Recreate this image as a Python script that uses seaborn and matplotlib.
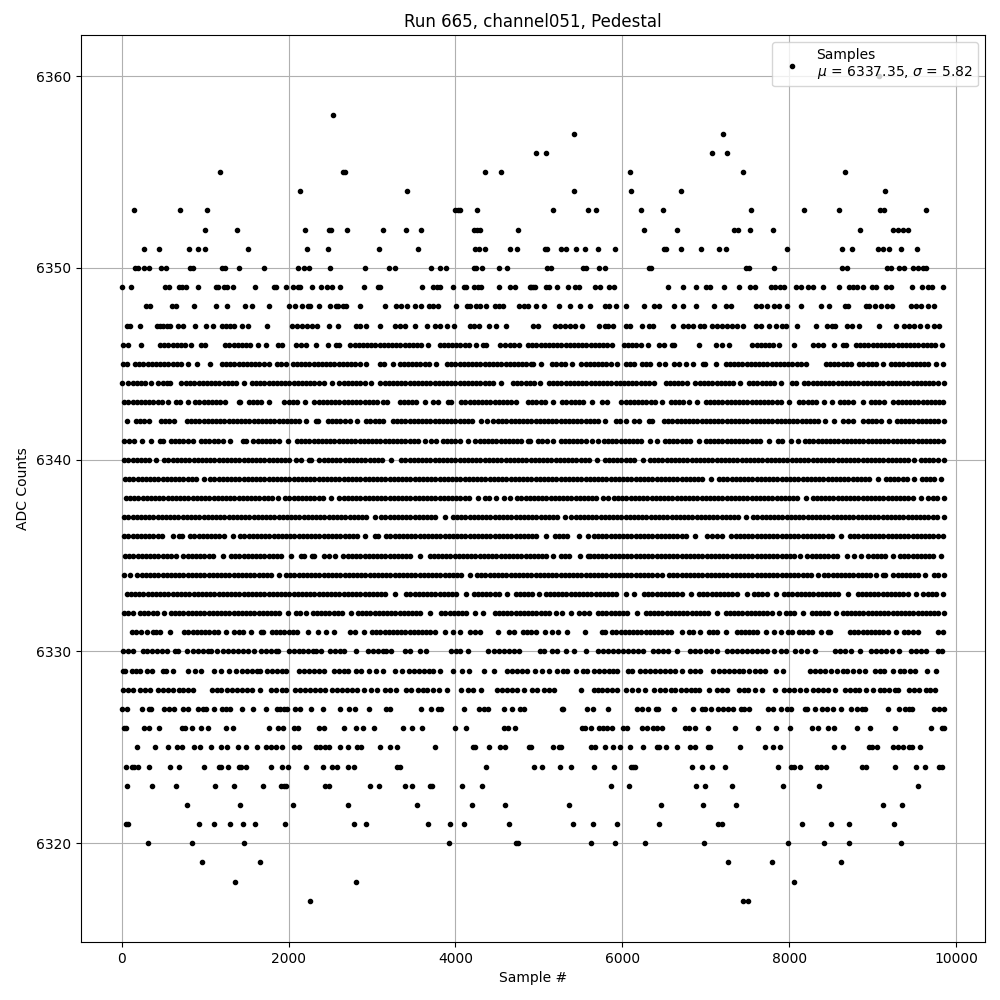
import matplotlib
matplotlib.use("Agg")
import matplotlib.pyplot as plt
import pandas as pd
import seaborn as sns

# Sample numbers, one list per ADC level
s6360 = [9072]
s6358 = [2528]
s6357 = [5424, 7212]
s6356 = [4968, 5088, 7080, 7260]
s6355 = [1172, 2648, 2672, 4352, 4544, 6096, 7452, 8664]
s6354 = [2132, 3416, 5424, 6108, 6708, 9144]
s6353 = [152, 704, 1016, 4000, 4030, 4060, 4256, 5172, 5592, 5688, 6228, 6492, 7548, 8172, 8592, 9084, 9132, 9636]
s6352 = [992, 1376, 2192, 2480, 2504, 2696, 3128, 3404, 3584, 4220, 4260, 4292, 4748, 6264, 6660, 7344, 7392, 7536, 7812, 8844, 9240, 9300, 9360, 9420]
s6351 = [272, 452, 812, 908, 992, 1508, 2216, 2468, 3080, 3548, 4232, 4288, 4352, 4652, 4736, 5076, 5100, 5268, 5328, 5448, 5556, 5712, 5916, 6504, 6528, 6708, 6948, 7164, 7248, 7980, 8628, 8748, 9060, 9120, 9192, 9336, 9528]
s6350 = [164, 200, 272, 332, 476, 536, 820, 848, 1196, 1232, 1400, 1700, 2108, 2180, 2244, 2492, 2912, 3200, 3272, 3704, 3812, 3884, 4220, 4244, 4316, 4520, 4616, 5100, 5148, 5532, 5568, 5724, 5796, 6324, 6348, 7488, 7524, 7824, 8628, 8688, 9168, 9216, 9312, 9372, 9480, 9540, 9600, 9636]
s6349 = [8, 116, 524, 572, 692, 728, 776, 908, 1124, 1148, 1220, 1256, 1328, 1592, 1820, 1844, 1964, 2048, 2108, 2132, 2276, 2384, 2456, 2516, 2612, 2900, 3068, 3092, 3596, 3728, 3776, 3812, 3968, 4100, 4124, 4220, 4268, 4304, 4516, 4648, 4708, 4892, 4908, 4932, 4956, 5088, 5124, 5220, 5352, 5436, 5484, 5676, 5736, 5844, 5904, 6552, 6732, 6888, 7008, 7056, 7224, 7404, 7536, 7596, 7788, 7836, 7896, 7944, 8088, 8136, 8220, 8280, 8400, 8592, 8712, 8760, 8808, 8880, 8988, 9036, 9156, 9216, 9468, 9588, 9660, 9708, 9840]
s6348 = [296, 344, 608, 656, 860, 1124, 1256, 1472, 1556, 1760, 2000, 2072, 2156, 2228, 2252, 2360, 2492, 2564, 2588, 2648, 2684, 2852, 3152, 3284, 3344, 3416, 3512, 3584, 3680, 3728, 3788, 4004, 4136, 4172, 4244, 4292, 4364, 4472, 4520, 4568, 4760, 4820, 4868, 4968, 5064, 5244, 5376, 5496, 5616, 5796, 5844, 5928, 6048, 6264, 6384, 6444, 6624, 6732, 6888, 7104, 7248, 7308, 7608, 7668, 7740, 7824, 7884, 7980, 8136, 8376, 8472, 8664, 8700, 8916, 8952, 9024, 9096, 9168, 9228, 9456, 9516, 9576, 9660, 9732]
s6347 = [68, 100, 224, 428, 460, 500, 548, 580, 680, 740, 872, 1004, 1088, 1196, 1244, 1292, 1340, 1436, 1508, 1736, 2040, 2100, 2160, 2220, 2280, 2340, 2480, 2588, 2804, 2860, 2932, 3092, 3272, 3332, 3400, 3512, 3656, 3752, 3820, 3900, 3980, 4172, 4220, 4280, 4400, 4480, 4604, 4932, 4992, 5192, 5252, 5312, 5372, 5432, 5512, 5724, 5792, 5832, 5892, 6040, 6092, 6240, 6324, 6372, 6612, 6724, 6792, 6852, 6932, 6980, 7072, 7132, 7192, 7252, 7312, 7372, 7452, 7604, 7660, 7764, 7848, 7912, 7964, 8092, 8316, 8452, 8512, 8552, 8692, 8752, 8832, 9072, 9280, 9372, 9432, 9492, 9572, 9652, 9732, 9792]
s6346 = [20, 80, 230, 460, 510, 560, 610, 660, 710, 760, 830, 950, 1000, 1240, 1290, 1340, 1390, 1440, 1490, 1540, 1628, 1732, 1870, 1920, 2090, 2150, 2210, 2324, 2468, 2570, 2610, 2740, 2790, 2840, 2890, 2940, 2990, 3040, 3090, 3140, 3190, 3240, 3290, 3340, 3390, 3440, 3490, 3540, 3590, 3670, 3810, 3860, 3910, 3960, 4010, 4060, 4110, 4160, 4250, 4330, 4370, 4530, 4590, 4650, 4700, 4760, 4870, 4920, 4970, 5020, 5070, 5120, 5170, 5220, 5270, 5320, 5370, 5420, 5470, 5520, 5570, 5620, 5670, 5720, 5770, 5820, 5880, 6020, 6070, 6120, 6170, 6220, 6310, 6434, 6494, 6600, 6620, 6924, 7120, 7190, 7284, 7560, 7610, 7660, 7710, 7760, 7810, 7880, 8060, 8280, 8340, 8400, 8540, 8640, 8680, 8800, 8850, 8900, 8950, 9000, 9050, 9100, 9150, 9200, 9250, 9300, 9350, 9400, 9450, 9500, 9550, 9600, 9650, 9700, 9750, 9832]
s6345 = [20, 60, 160, 210, 260, 310, 360, 410, 460, 510, 560, 610, 660, 710, 790, 900, 1052, 1200, 1250, 1300, 1350, 1400, 1450, 1500, 1550, 1600, 1650, 1700, 1760, 1860, 1910, 1970, 2050, 2100, 2150, 2200, 2250, 2300, 2350, 2400, 2450, 2500, 2550, 2600, 2650, 2700, 2750, 2800, 2850, 2930, 3090, 3140, 3248, 3330, 3380, 3430, 3480, 3530, 3580, 3630, 3680, 3770, 3900, 3950, 4000, 4050, 4100, 4150, 4200, 4250, 4300, 4350, 4400, 4450, 4500, 4550, 4600, 4650, 4700, 4750, 4800, 4850, 4900, 4932, 5022, 5160, 5210, 5260, 5310, 5400, 5510, 5560, 5610, 5660, 5710, 5760, 5810, 5860, 5940, 6040, 6090, 6140, 6240, 6290, 6330, 6440, 6510, 6620, 6680, 6760, 6852, 6970, 6990, 7124, 7240, 7290, 7340, 7390, 7440, 7490, 7540, 7590, 7640, 7690, 7740, 7790, 7840, 7890, 7940, 7990, 8040, 8090, 8140, 8200, 8440, 8490, 8540, 8590, 8640, 8690, 8740, 8840, 8890, 8940, 8990, 9040, 9120, 9220, 9270, 9320, 9370, 9420, 9470, 9520, 9570, 9620, 9670, 9760, 9845]
s6344 = [5, 80, 130, 180, 230, 280, 350, 440, 490, 540, 580, 716, 770, 820, 870, 920, 970, 1020, 1070, 1120, 1170, 1220, 1270, 1320, 1370, 1460, 1560, 1610, 1660, 1710, 1760, 1810, 1860, 1910, 1960, 2010, 2060, 2110, 2160, 2210, 2260, 2310, 2360, 2430, 2520, 2610, 2660, 2710, 2760, 2810, 2860, 2910, 2990, 3096, 3150, 3200, 3250, 3300, 3350, 3400, 3450, 3500, 3550, 3600, 3650, 3700, 3750, 3800, 3850, 3900, 3950, 4000, 4050, 4100, 4150, 4200, 4250, 4300, 4350, 4400, 4450, 4540, 4690, 4740, 4790, 4840, 4890, 4940, 5010, 5120, 5170, 5220, 5270, 5320, 5370, 5420, 5470, 5520, 5570, 5620, 5670, 5720, 5770, 5820, 5870, 5920, 5970, 6020, 6070, 6120, 6170, 6220, 6270, 6320, 6380, 6520, 6570, 6620, 6670, 6720, 6780, 6872, 6930, 6980, 7030, 7080, 7130, 7180, 7230, 7280, 7330, 7410, 7520, 7570, 7620, 7670, 7720, 7770, 7820, 7900, 8030, 8080, 8180, 8230, 8280, 8330, 8380, 8430, 8480, 8530, 8580, 8630, 8680, 8730, 8780, 8830, 8880, 8930, 8980, 9030, 9080, 9130, 9180, 9230, 9280, 9330, 9380, 9430, 9480, 9530, 9580, 9630, 9680, 9730, 9780, 9855]
s6343 = [30, 80, 130, 180, 230, 280, 330, 380, 430, 480, 550, 650, 700, 790, 880, 930, 980, 1030, 1080, 1130, 1180, 1240, 1400, 1420, 1520, 1570, 1620, 1670, 1770, 1950, 2000, 2050, 2100, 2200, 2310, 2360, 2410, 2460, 2510, 2560, 2610, 2660, 2710, 2760, 2810, 2860, 2910, 2960, 3010, 3060, 3130, 3180, 3330, 3380, 3430, 3480, 3530, 3630, 3730, 3790, 3910, 3950, 4070, 4120, 4170, 4220, 4270, 4320, 4370, 4420, 4470, 4520, 4570, 4620, 4670, 4730, 4870, 4920, 4970, 5020, 5070, 5170, 5280, 5330, 5380, 5430, 5480, 5530, 5640, 5760, 5820, 5990, 6040, 6090, 6140, 6190, 6240, 6290, 6340, 6390, 6480, 6580, 6630, 6680, 6730, 6800, 6892, 7000, 7050, 7100, 7150, 7200, 7250, 7300, 7350, 7400, 7450, 7500, 7550, 7600, 7650, 7700, 7750, 7800, 7850, 7900, 8000, 8120, 8170, 8220, 8270, 8320, 8420, 8512, 8610, 8660, 8710, 8760, 8880, 8980, 9030, 9080, 9140, 9250, 9300, 9350, 9400, 9450, 9500, 9550, 9600, 9650, 9700, 9750, 9800, 9850]
s6342 = [68, 170, 220, 270, 330, 470, 520, 570, 630, 780, 830, 880, 930, 980, 1030, 1080, 1130, 1180, 1230, 1280, 1330, 1380, 1430, 1480, 1530, 1580, 1630, 1680, 1730, 1780, 1830, 1880, 1930, 1980, 2030, 2080, 2130, 2210, 2330, 2350, 2470, 2520, 2570, 2620, 2670, 2730, 2820, 2930, 2980, 3030, 3080, 3130, 3250, 3300, 3350, 3400, 3450, 3500, 3550, 3600, 3650, 3700, 3750, 3800, 3850, 3900, 3950, 4000, 4050, 4100, 4150, 4200, 4310, 4380, 4456, 4510, 4560, 4610, 4660, 4710, 4760, 4810, 4860, 4910, 4960, 5010, 5060, 5110, 5160, 5210, 5260, 5310, 5360, 5410, 5460, 5510, 5560, 5610, 5660, 5710, 5790, 5920, 5970, 6040, 6140, 6200, 6320, 6360, 6500, 6550, 6600, 6650, 6700, 6750, 6800, 6850, 6900, 6950, 7000, 7050, 7100, 7150, 7200, 7250, 7300, 7350, 7400, 7450, 7500, 7550, 7600, 7650, 7700, 7750, 7800, 7850, 7900, 7950, 8000, 8050, 8100, 8150, 8200, 8250, 8300, 8350, 8430, 8540, 8640, 8700, 8760, 8890, 8940, 8990, 9040, 9100, 9192, 9290, 9340, 9390, 9440, 9490, 9540, 9590, 9640, 9690, 9740, 9790, 9855]
s6341 = [30, 90, 150, 240, 356, 456, 490, 590, 640, 690, 740, 790, 850, 950, 1000, 1050, 1100, 1150, 1210, 1292, 1456, 1490, 1576, 1630, 1680, 1730, 1780, 1830, 1880, 1990, 2100, 2150, 2200, 2250, 2300, 2350, 2400, 2450, 2500, 2550, 2600, 2650, 2700, 2750, 2800, 2850, 2900, 2950, 3000, 3050, 3100, 3150, 3200, 3250, 3300, 3350, 3400, 3450, 3500, 3550, 3630, 3710, 3770, 3850, 3900, 3950, 4000, 4050, 4150, 4240, 4290, 4340, 4390, 4440, 4490, 4540, 4590, 4640, 4690, 4740, 4790, 4870, 4892, 4990, 5040, 5100, 5164, 5260, 5310, 5360, 5410, 5460, 5510, 5560, 5640, 5712, 5780, 5830, 5880, 5930, 5980, 6030, 6080, 6130, 6180, 6230, 6330, 6420, 6510, 6560, 6610, 6660, 6710, 6760, 6810, 6920, 7000, 7050, 7100, 7150, 7200, 7250, 7300, 7350, 7400, 7450, 7500, 7550, 7600, 7650, 7760, 7870, 7920, 8020, 8104, 8190, 8240, 8290, 8340, 8390, 8440, 8490, 8540, 8590, 8640, 8690, 8740, 8790, 8840, 8890, 8940, 8990, 9040, 9090, 9140, 9190, 9240, 9290, 9340, 9390, 9440, 9490, 9540, 9590, 9640, 9690, 9740, 9790, 9845]
s6340 = [30, 80, 130, 180, 230, 280, 330, 410, 510, 560, 610, 660, 710, 760, 810, 860, 910, 960, 1010, 1060, 1110, 1160, 1210, 1260, 1310, 1360, 1410, 1460, 1510, 1560, 1610, 1660, 1710, 1760, 1810, 1860, 1910, 1960, 2010, 2090, 2148, 2250, 2270, 2370, 2420, 2470, 2520, 2570, 2620, 2670, 2720, 2770, 2820, 2870, 2920, 2970, 3020, 3070, 3120, 3230, 3350, 3400, 3450, 3500, 3550, 3600, 3650, 3700, 3750, 3800, 3850, 3900, 3950, 4000, 4050, 4100, 4150, 4200, 4250, 4300, 4350, 4400, 4450, 4500, 4550, 4600, 4650, 4700, 4750, 4800, 4850, 4900, 4950, 5000, 5050, 5100, 5150, 5200, 5250, 5300, 5350, 5400, 5450, 5500, 5550, 5600, 5700, 5790, 5840, 5890, 5940, 5990, 6040, 6090, 6140, 6250, 6330, 6380, 6430, 6480, 6530, 6580, 6630, 6680, 6730, 6780, 6830, 6880, 6930, 6980, 7030, 7080, 7130, 7180, 7230, 7280, 7330, 7380, 7430, 7480, 7530, 7580, 7630, 7680, 7730, 7780, 7830, 7880, 7930, 7980, 8030, 8080, 8130, 8180, 8230, 8280, 8330, 8380, 8430, 8480, 8530, 8580, 8630, 8680, 8730, 8780, 8830, 8880, 8930, 8980, 9030, 9080, 9130, 9180, 9230, 9280, 9330, 9380, 9430, 9500, 9580, 9630, 9680, 9730, 9780, 9855]
s6339 = [36, 90, 140, 190, 240, 290, 340, 390, 440, 490, 540, 590, 640, 690, 740, 790, 840, 890, 980, 1056, 1110, 1160, 1210, 1260, 1310, 1360, 1410, 1460, 1510, 1560, 1610, 1660, 1710, 1760, 1810, 1860, 1910, 1960, 2010, 2060, 2110, 2160, 2210, 2260, 2310, 2360, 2410, 2460, 2510, 2560, 2610, 2660, 2710, 2760, 2810, 2860, 2910, 2960, 3010, 3060, 3110, 3160, 3210, 3260, 3310, 3360, 3410, 3460, 3510, 3560, 3610, 3660, 3710, 3760, 3810, 3860, 3910, 3960, 4010, 4060, 4110, 4160, 4210, 4260, 4310, 4360, 4410, 4460, 4510, 4560, 4610, 4660, 4710, 4760, 4810, 4860, 4910, 4960, 5010, 5060, 5110, 5160, 5210, 5260, 5310, 5360, 5410, 5460, 5510, 5560, 5610, 5660, 5710, 5760, 5810, 5860, 5910, 5960, 6010, 6060, 6110, 6160, 6210, 6260, 6310, 6360, 6410, 6460, 6510, 6560, 6610, 6660, 6710, 6760, 6810, 6860, 6910, 6960, 7060, 7160, 7210, 7260, 7310, 7360, 7410, 7460, 7510, 7560, 7610, 7660, 7710, 7760, 7810, 7860, 7910, 7960, 8010, 8060, 8110, 8160, 8210, 8260, 8310, 8360, 8410, 8460, 8510, 8560, 8610, 8660, 8710, 8760, 8810, 8860, 8910, 8960, 9060, 9160, 9210, 9260, 9310, 9360, 9410, 9500, 9590, 9640, 9690, 9740, 9825]
s6338 = [50, 100, 150, 200, 250, 300, 350, 400, 450, 500, 550, 600, 650, 700, 750, 800, 850, 900, 950, 1000, 1050, 1100, 1150, 1200, 1250, 1300, 1350, 1400, 1450, 1500, 1550, 1600, 1650, 1700, 1750, 1800, 1870, 1960, 2010, 2060, 2110, 2160, 2210, 2260, 2310, 2360, 2410, 2510, 2610, 2660, 2710, 2760, 2810, 2860, 2910, 2960, 3010, 3060, 3110, 3160, 3210, 3260, 3310, 3360, 3410, 3460, 3510, 3560, 3610, 3660, 3710, 3760, 3810, 3860, 3910, 3960, 4010, 4060, 4110, 4160, 4270, 4350, 4400, 4490, 4578, 4650, 4736, 4790, 4840, 4890, 4940, 4990, 5040, 5090, 5140, 5190, 5240, 5290, 5340, 5390, 5440, 5490, 5540, 5590, 5640, 5690, 5770, 5832, 5900, 5950, 6000, 6050, 6100, 6150, 6200, 6250, 6300, 6350, 6400, 6450, 6500, 6550, 6600, 6650, 6700, 6750, 6800, 6850, 6900, 6950, 7000, 7050, 7100, 7150, 7200, 7250, 7300, 7350, 7400, 7450, 7500, 7550, 7600, 7650, 7700, 7750, 7800, 7850, 7900, 7950, 8000, 8050, 8100, 8200, 8280, 8330, 8380, 8430, 8480, 8530, 8580, 8630, 8680, 8730, 8780, 8830, 8880, 8930, 8980, 9030, 9080, 9130, 9180, 9230, 9280, 9330, 9380, 9430, 9480, 9580, 9670, 9720, 9770, 9855]
s6337 = [30, 80, 130, 180, 230, 280, 330, 380, 430, 480, 530, 580, 630, 680, 730, 780, 830, 880, 930, 980, 1030, 1080, 1130, 1180, 1230, 1280, 1330, 1380, 1430, 1480, 1530, 1580, 1630, 1680, 1730, 1780, 1830, 1880, 1930, 1980, 2030, 2080, 2130, 2180, 2230, 2280, 2330, 2380, 2430, 2480, 2530, 2580, 2630, 2680, 2730, 2780, 2830, 2880, 2930, 3030, 3110, 3160, 3210, 3260, 3310, 3360, 3410, 3460, 3510, 3560, 3610, 3660, 3710, 3760, 3880, 3970, 4020, 4070, 4120, 4170, 4220, 4270, 4320, 4370, 4420, 4470, 4520, 4570, 4620, 4670, 4720, 4770, 4820, 4870, 4920, 4970, 5020, 5070, 5120, 5170, 5220, 5310, 5390, 5440, 5490, 5540, 5590, 5640, 5690, 5740, 5790, 5840, 5890, 5940, 5990, 6040, 6090, 6140, 6190, 6240, 6290, 6340, 6390, 6440, 6490, 6540, 6590, 6640, 6690, 6740, 6790, 6840, 6890, 6940, 6990, 7040, 7090, 7140, 7190, 7240, 7290, 7340, 7390, 7480, 7570, 7620, 7670, 7720, 7770, 7820, 7870, 7920, 7970, 8020, 8070, 8120, 8170, 8220, 8270, 8320, 8370, 8420, 8470, 8520, 8570, 8620, 8670, 8720, 8770, 8820, 8870, 8920, 8970, 9020, 9070, 9120, 9170, 9220, 9270, 9320, 9370, 9420, 9470, 9520, 9570, 9620, 9670, 9720, 9770, 9855]
s6336 = [30, 80, 130, 180, 230, 280, 330, 380, 430, 480, 610, 690, 720, 816, 870, 920, 970, 1020, 1070, 1120, 1170, 1220, 1330, 1416, 1470, 1520, 1570, 1620, 1670, 1720, 1770, 1820, 1870, 1920, 1970, 2020, 2070, 2120, 2170, 2220, 2270, 2320, 2370, 2420, 2470, 2520, 2570, 2620, 2670, 2720, 2770, 2820, 2920, 3040, 3070, 3170, 3220, 3270, 3320, 3370, 3420, 3470, 3520, 3570, 3620, 3670, 3720, 3770, 3820, 3870, 3920, 3970, 4020, 4070, 4120, 4170, 4220, 4270, 4320, 4370, 4420, 4470, 4520, 4570, 4620, 4670, 4720, 4770, 4820, 4870, 4920, 4970, 5090, 5190, 5240, 5290, 5340, 5480, 5584, 5660, 5710, 5760, 5810, 5860, 5910, 5960, 6010, 6060, 6110, 6160, 6210, 6260, 6310, 6360, 6410, 6460, 6510, 6560, 6610, 6660, 6710, 6760, 6870, 7016, 7080, 7140, 7200, 7304, 7360, 7410, 7460, 7510, 7560, 7610, 7660, 7710, 7760, 7810, 7860, 7910, 7960, 8010, 8060, 8110, 8160, 8210, 8260, 8310, 8360, 8410, 8460, 8510, 8620, 8730, 8780, 8830, 8880, 8930, 8980, 9030, 9080, 9130, 9180, 9230, 9280, 9330, 9380, 9430, 9480, 9530, 9580, 9630, 9680, 9730, 9780, 9840]
s6335 = [40, 90, 140, 190, 240, 290, 340, 390, 440, 490, 540, 590, 650, 736, 790, 840, 890, 940, 990, 1040, 1090, 1210, 1310, 1360, 1410, 1460, 1510, 1560, 1610, 1660, 1710, 1760, 1810, 1860, 1910, 2030, 2148, 2190, 2280, 2300, 2430, 2490, 2560, 2656, 2710, 2760, 2810, 2860, 2910, 2960, 3010, 3060, 3110, 3160, 3210, 3260, 3310, 3360, 3410, 3460, 3580, 3690, 3740, 3790, 3840, 3890, 3940, 3990, 4040, 4090, 4140, 4190, 4240, 4290, 4340, 4390, 4440, 4490, 4540, 4590, 4640, 4690, 4740, 4790, 4840, 4890, 4940, 4990, 5040, 5090, 5170, 5260, 5310, 5360, 5490, 5590, 5610, 5660, 5710, 5760, 5810, 5860, 5910, 5960, 6010, 6060, 6110, 6160, 6210, 6260, 6310, 6360, 6410, 6460, 6510, 6560, 6610, 6660, 6710, 6760, 6810, 6860, 6910, 6960, 7010, 7060, 7110, 7160, 7210, 7260, 7310, 7360, 7410, 7460, 7510, 7560, 7610, 7660, 7710, 7760, 7810, 7860, 7910, 7960, 8010, 8060, 8130, 8216, 8270, 8320, 8370, 8420, 8470, 8520, 8570, 8690, 8780, 8860, 8950, 9000, 9050, 9100, 9150, 9240, 9330, 9380, 9430, 9480, 9530, 9580, 9630, 9680, 9730, 9825]
s6334 = [30, 100, 184, 240, 290, 340, 390, 440, 490, 540, 590, 640, 690, 740, 790, 840, 890, 940, 990, 1040, 1090, 1140, 1190, 1240, 1290, 1340, 1390, 1440, 1490, 1540, 1590, 1640, 1690, 1740, 1790, 1890, 1970, 2020, 2070, 2120, 2170, 2220, 2270, 2320, 2370, 2420, 2470, 2520, 2570, 2620, 2670, 2720, 2770, 2820, 2870, 2920, 2970, 3020, 3070, 3120, 3170, 3220, 3270, 3320, 3370, 3420, 3470, 3520, 3570, 3620, 3670, 3720, 3770, 3820, 3870, 3920, 3970, 4020, 4070, 4170, 4256, 4310, 4360, 4410, 4460, 4510, 4560, 4610, 4660, 4710, 4760, 4810, 4860, 4910, 4960, 5010, 5060, 5110, 5160, 5210, 5260, 5310, 5360, 5410, 5460, 5510, 5560, 5610, 5660, 5710, 5760, 5810, 5860, 5910, 5960, 6010, 6060, 6110, 6160, 6210, 6260, 6310, 6360, 6410, 6480, 6560, 6610, 6660, 6710, 6760, 6810, 6860, 6910, 6960, 7010, 7060, 7110, 7160, 7210, 7260, 7310, 7360, 7410, 7460, 7510, 7560, 7610, 7660, 7710, 7760, 7810, 7860, 7910, 7960, 8010, 8060, 8110, 8160, 8210, 8260, 8340, 8420, 8470, 8520, 8570, 8620, 8670, 8720, 8770, 8820, 8870, 8920, 8970, 9040, 9128, 9150, 9250, 9300, 9350, 9400, 9450, 9500, 9550, 9630, 9740, 9790, 9855]
s6333 = [60, 110, 160, 210, 260, 310, 360, 410, 460, 510, 560, 610, 660, 710, 760, 810, 860, 910, 960, 1010, 1060, 1110, 1160, 1210, 1260, 1310, 1360, 1410, 1460, 1510, 1560, 1610, 1660, 1710, 1760, 1810, 1860, 1910, 1960, 2010, 2060, 2110, 2160, 2210, 2260, 2310, 2360, 2410, 2460, 2510, 2560, 2610, 2660, 2710, 2760, 2810, 2860, 2910, 2960, 3010, 3060, 3110, 3160, 3270, 3410, 3460, 3510, 3560, 3610, 3660, 3710, 3760, 3810, 3860, 3910, 3960, 4010, 4130, 4220, 4270, 4320, 4370, 4420, 4470, 4520, 4620, 4720, 4770, 4820, 4870, 4920, 5000, 5080, 5130, 5180, 5230, 5280, 5330, 5380, 5430, 5480, 5530, 5580, 5630, 5680, 5730, 5780, 5830, 5880, 5930, 6040, 6140, 6260, 6310, 6360, 6410, 6460, 6510, 6560, 6610, 6660, 6710, 6820, 6920, 6970, 7020, 7070, 7120, 7170, 7220, 7270, 7320, 7370, 7500, 7580, 7630, 7680, 7730, 7840, 7940, 7990, 8040, 8090, 8140, 8190, 8240, 8290, 8340, 8390, 8440, 8490, 8540, 8590, 8700, 8820, 8870, 8920, 8970, 9020, 9070, 9120, 9170, 9220, 9270, 9320, 9370, 9420, 9520, 9610, 9660, 9710, 9760, 9845]
s6332 = [30, 80, 130, 216, 270, 320, 370, 420, 510, 590, 640, 690, 740, 790, 840, 890, 940, 990, 1040, 1090, 1140, 1190, 1240, 1290, 1340, 1390, 1440, 1490, 1540, 1590, 1640, 1690, 1740, 1790, 1840, 1890, 1990, 2090, 2140, 2210, 2290, 2340, 2390, 2440, 2490, 2540, 2590, 2640, 2750, 2830, 2880, 2930, 2980, 3030, 3080, 3130, 3180, 3230, 3280, 3330, 3380, 3430, 3480, 3530, 3580, 3690, 3830, 3880, 3930, 3980, 4030, 4080, 4130, 4230, 4330, 4470, 4520, 4570, 4620, 4670, 4720, 4770, 4820, 4870, 4920, 4970, 5020, 5070, 5120, 5200, 5280, 5380, 5480, 5540, 5600, 5710, 5760, 5810, 5860, 5910, 5960, 6010, 6060, 6180, 6280, 6330, 6380, 6430, 6480, 6530, 6580, 6630, 6680, 6730, 6780, 6830, 6880, 6930, 6980, 7030, 7140, 7240, 7290, 7340, 7390, 7440, 7490, 7540, 7590, 7640, 7690, 7740, 7790, 7880, 7960, 8010, 8060, 8160, 8270, 8320, 8370, 8420, 8470, 8560, 8640, 8690, 8740, 8790, 8840, 8890, 8940, 8990, 9040, 9090, 9140, 9190, 9240, 9290, 9340, 9390, 9440, 9490, 9540, 9590, 9640, 9690, 9740, 9790, 9855]
s6331 = [120, 170, 230, 300, 370, 410, 460, 580, 750, 800, 850, 900, 950, 1000, 1050, 1100, 1150, 1250, 1350, 1400, 1450, 1550, 1670, 1690, 1800, 1850, 1900, 1950, 2000, 2050, 2100, 2230, 2348, 2452, 2548, 2740, 2800, 2900, 3000, 3050, 3100, 3150, 3200, 3250, 3300, 3350, 3400, 3450, 3500, 3550, 3600, 3650, 3700, 3750, 3870, 3970, 4060, 4180, 4240, 4300, 4508, 4640, 4700, 4810, 4860, 4910, 4960, 5070, 5160, 5230, 5340, 5552, 5760, 5790, 5880, 5930, 5980, 6030, 6080, 6130, 6180, 6230, 6280, 6330, 6380, 6430, 6480, 6530, 6580, 6710, 6800, 6850, 6930, 7040, 7090, 7140, 7240, 7370, 7420, 7470, 7520, 7570, 7620, 7720, 7820, 7900, 7990, 8030, 8120, 8170, 8220, 8270, 8380, 8470, 8490, 8730, 8780, 8830, 8880, 8930, 8980, 9030, 9080, 9130, 9180, 9280, 9380, 9430, 9480, 9550, 9780, 9850]
s6330 = [20, 80, 140, 260, 300, 368, 420, 480, 540, 640, 680, 788, 848, 908, 968, 1028, 1068, 1136, 1208, 1268, 1328, 1388, 1448, 1508, 1580, 1664, 1724, 1784, 1844, 1868, 2000, 2060, 2120, 2168, 2228, 2288, 2324, 2392, 2492, 2552, 2612, 2660, 2804, 2948, 3008, 3068, 3128, 3172, 3232, 3392, 3452, 3572, 3644, 3944, 4004, 4052, 4148, 4388, 4460, 4520, 4580, 4640, 4700, 4760, 5016, 5064, 5160, 5220, 5328, 5424, 5564, 5712, 5772, 5832, 5892, 5952, 6012, 6072, 6132, 6192, 6252, 6372, 6432, 6492, 6552, 6660, 6816, 6876, 6936, 7008, 7068, 7140, 7260, 7320, 7380, 7440, 7500, 7560, 7620, 7680, 7740, 7824, 7908, 7968, 8076, 8136, 8208, 8304, 8544, 8604, 8664, 8736, 8844, 8976, 9036, 9096, 9156, 9228, 9312, 9456, 9516, 9576, 9636, 9780, 9828]
s6329 = [20, 44, 128, 176, 224, 308, 368, 500, 536, 620, 800, 872, 944, 1100, 1184, 1280, 1364, 1436, 1496, 1556, 1616, 1652, 1736, 1796, 1856, 1916, 1964, 2120, 2180, 2240, 2300, 2360, 2420, 2540, 2600, 2660, 2708, 2804, 2864, 2960, 3044, 3128, 3272, 3356, 3440, 3500, 3560, 3620, 3680, 3728, 3812, 3968, 4076, 4160, 4340, 4460, 4620, 4680, 4740, 4800, 4860, 4956, 5040, 5124, 5220, 5292, 5340, 5448, 5532, 5572, 5664, 5724, 5784, 5844, 5892, 5940, 6072, 6120, 6216, 6276, 6336, 6396, 6456, 6516, 6576, 6636, 6720, 6816, 6876, 6936, 7092, 7164, 7224, 7284, 7344, 7404, 7452, 7524, 7596, 7656, 7716, 7848, 7932, 8244, 8304, 8364, 8424, 8496, 8568, 8640, 8688, 8760, 8832, 8904, 9024, 9084, 9132, 9240, 9324, 9372, 9444, 9504, 9648, 9756]
s6328 = [20, 80, 140, 220, 280, 340, 440, 500, 560, 620, 692, 740, 800, 852, 1080, 1140, 1188, 1260, 1320, 1380, 1440, 1500, 1560, 1652, 1784, 1844, 1916, 1964, 2072, 2132, 2192, 2252, 2312, 2372, 2432, 2516, 2580, 2640, 2700, 2760, 2820, 2900, 2984, 3060, 3152, 3212, 3292, 3404, 3472, 3548, 3608, 3660, 3728, 3800, 3900, 4064, 4148, 4208, 4304, 4496, 4560, 4620, 4680, 4740, 4820, 4920, 4980, 5064, 5124, 5184, 5508, 5664, 5712, 5760, 5820, 5880, 5940, 6040, 6120, 6192, 6272, 6384, 6456, 6516, 6588, 6636, 6708, 6768, 6828, 6876, 6924, 7040, 7140, 7200, 7260, 7404, 7464, 7512, 7596, 7680, 7832, 7944, 8004, 8064, 8124, 8196, 8280, 8340, 8400, 8460, 8552, 8664, 8724, 8784, 8832, 8916, 9000, 9084, 9132, 9192, 9264, 9300, 9432, 9492, 9552, 9636, 9684, 9744]
s6327 = [4, 68, 248, 332, 356, 512, 572, 632, 740, 800, 908, 968, 1012, 1100, 1196, 1244, 1292, 1436, 1568, 1724, 1856, 1892, 1940, 1980, 2072, 2132, 2264, 2408, 2612, 2720, 2792, 2960, 3164, 3212, 3584, 3704, 3788, 3824, 4100, 4280, 4340, 4388, 4580, 4676, 4772, 4820, 5280, 5292, 5580, 5652, 5832, 6180, 6240, 6312, 6408, 6432, 6624, 6852, 6960, 6996, 7068, 7152, 7212, 7272, 7332, 7428, 7464, 7524, 7752, 7812, 7908, 7980, 8028, 8184, 8208, 8304, 8388, 8448, 8520, 8616, 8736, 8808, 8870, 8910, 9180, 9312, 9384, 9432, 9468, 9732, 9792, 9852]
s6326 = [32, 56, 272, 332, 452, 728, 764, 836, 944, 1028, 1244, 1328, 1760, 1868, 1928, 2060, 2108, 2360, 2420, 2660, 2804, 2888, 3020, 3368, 3476, 3596, 3992, 4124, 4580, 4628, 4712, 5520, 5556, 5628, 5724, 5772, 5820, 5880, 6012, 6060, 6240, 6300, 6372, 6420, 6480, 6756, 6804, 6876, 7032, 7356, 7632, 7848, 8016, 8268, 8340, 8460, 8532, 8808, 8964, 9264, 9696, 9828, 9852]
s6325 = [188, 404, 560, 668, 728, 860, 932, 1068, 1184, 1256, 1388, 1484, 1616, 1724, 1784, 1844, 1916, 2060, 2120, 2324, 2372, 2432, 2480, 2612, 2708, 2816, 2864, 3092, 3212, 3296, 3752, 4208, 4232, 4400, 4532, 4592, 4880, 4908, 5172, 5244, 5268, 5628, 5676, 5796, 5892, 5976, 6096, 6252, 6420, 6444, 6528, 6660, 6816, 6876, 7032, 7056, 7416, 7716, 7812, 7896, 8532, 8640, 8952, 8988, 9048, 9240, 9300, 9360, 9432, 9468, 9564]
s6324 = [56, 128, 152, 200, 332, 584, 692, 980, 1160, 1184, 1268, 1400, 1424, 1484, 1784, 1916, 1988, 2204, 2408, 2516, 2576, 2708, 2780, 3296, 3332, 4364, 4944, 5040, 5256, 5388, 5664, 5904, 6108, 6132, 6156, 6840, 6960, 7080, 7236, 7872, 8028, 8064, 8124, 8328, 8376, 8436, 8868, 8916, 9264, 9516, 9624, 9792, 9828]
s6323 = [68, 368, 656, 1112, 1340, 1688, 1904, 1940, 1964, 2432, 2480, 2972, 3080, 3392, 3476, 3692, 3716, 4076, 4316, 5868, 6084, 6888, 6996, 7320, 7932, 8352, 9540]
s6322 = [788, 1412, 2048, 2708, 3536, 4196, 4592, 5364, 6468, 6972, 7368, 9120, 9348]
s6321 = [56, 80, 920, 1100, 1292, 1448, 1592, 1952, 2780, 2924, 3668, 3932, 4100, 4640, 5412, 5652, 5940, 6444, 7152, 7200, 8148, 8496, 8712, 9252]
s6320 = [320, 836, 1460, 3920, 4724, 4748, 5628, 5916, 6276, 6984, 7992, 8412, 8712, 9336]
s6319 = [956, 1652, 7272, 7800, 8616]
s6318 = [1352, 2804, 8064]
s6317 = [2252, 7452, 7512]

levels = [6360, 6358, 6357, 6356, 6355, 6354, 6353, 6352, 6351, 6350, 6349, 6348, 6347, 6346, 6345,
          6344, 6343, 6342, 6341, 6340, 6339, 6338, 6337, 6336, 6335, 6334, 6333, 6332, 6331, 6330,
          6329, 6328, 6327, 6326, 6325, 6324, 6323, 6322, 6321, 6320, 6319, 6318, 6317]
rows = [s6360, s6358, s6357, s6356, s6355, s6354, s6353, s6352, s6351, s6350, s6349, s6348, s6347, s6346, s6345,
        s6344, s6343, s6342, s6341, s6340, s6339, s6338, s6337, s6336, s6335, s6334, s6333, s6332, s6331, s6330,
        s6329, s6328, s6327, s6326, s6325, s6324, s6323, s6322, s6321, s6320, s6319, s6318, s6317]

title = "Run 665, channel051, Pedestal"
x_label = "Sample #"
y_label = "ADC Counts"
legend_label = "Samples\n$\\mu$ = 6337.35, $\\sigma$ = 5.82"

df = pd.DataFrame(
    [(s, lv) for lv, row in zip(levels, rows) for s in row],
    columns=["sample", "adc"],
)

fig, ax = plt.subplots(figsize=(10, 10), dpi=100)
sns.scatterplot(
    data=df, x="sample", y="adc", ax=ax, marker=".", color="black",
    s=36, linewidth=1, edgecolor="black", label=legend_label, zorder=2,
)
ax.set_title(title)
ax.set_xlabel(x_label)
ax.set_ylabel(y_label)
ax.ticklabel_format(axis="y", useOffset=False, style="plain")
ax.grid(True)
ax.legend(loc="upper right")
fig.subplots_adjust(left=0.081, right=0.985, top=0.965, bottom=0.058)
fig.savefig("out.png", dpi=100)
